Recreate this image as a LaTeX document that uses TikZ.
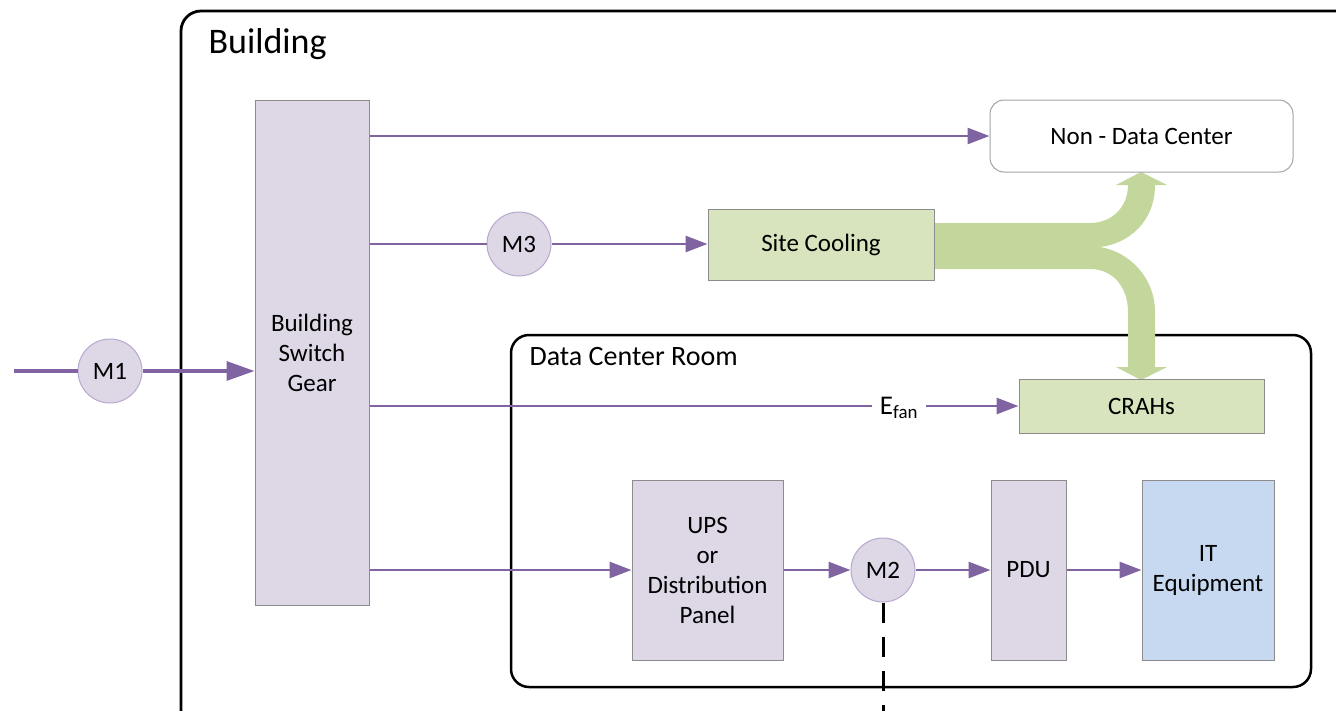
\documentclass[tikz,border=0pt]{standalone}
\usepackage{fontspec}
\setmainfont{Carlito}
\usetikzlibrary{arrows.meta}
\definecolor{flowP}{HTML}{8064A2}
\definecolor{lavFill}{HTML}{DDD7E6}
\definecolor{circEdge}{HTML}{B7A8D0}
\definecolor{boxEdge}{HTML}{8C8C8C}
\definecolor{greenFill}{HTML}{D7E4BD}
\definecolor{greenFlow}{HTML}{C3D69B}
\definecolor{blueFill}{HTML}{C6D9F1}
\tikzset{
  txt/.style={font=\fontsize{25}{30}\selectfont, text=black},
  blk/.style={draw=boxEdge, line width=1pt, inner sep=0pt, align=center, txt},
  meter/.style={circle, draw=circEdge, fill=lavFill, line width=1pt, minimum size=64pt, inner sep=0pt, txt},
  flow/.style={draw=flowP, line width=2.8pt, -{Triangle[length=22pt,width=16pt]}},
  wire/.style={draw=flowP, line width=2.8pt},
  region/.style={draw=black, line width=2.8pt, rounded corners=20pt}
}
\begin{document}
\begin{tikzpicture}[x=1pt, y=-1pt]
\useasboundingbox (0,0) rectangle (1336,710);
\clip (0,0) rectangle (1336,710);

% enclosing regions
\draw[region] (181,11) rectangle (1380,760);
\node[anchor=west, font=\fontsize{36}{40}\selectfont] (bldlabel) at (205,44) {Building};
\draw[region, line width=2.5pt, rounded corners=18pt] (511,335) rectangle (1311,687);
\node[anchor=west, font=\fontsize{28}{32}\selectfont] (dcrlabel) at (526,357) {Data Center Room};

% cooling flow from site cooling, split to non-data-center and CRAHs
\fill[greenFlow] (930,223) -- (1090,223)
  .. controls (1112,223) and (1128,207) .. (1128,185)
  -- (1116,185) -- (1141,172) -- (1167,185) -- (1155,185)
  .. controls (1155,222) and (1128,244) .. (1100,247)
  .. controls (1130,252) and (1155,278) .. (1155,312)
  -- (1155,367) -- (1167,367) -- (1141,380) -- (1116,367) -- (1128,367)
  -- (1128,312)
  .. controls (1128,286) and (1112,269) .. (1090,269)
  -- (930,269) -- cycle;

% equipment blocks
\node[blk, fill=lavFill, minimum width=114pt, minimum height=505pt] (sg) at (312,352.5) {Building\\Switch\\Gear};
\node[blk, draw=boxEdge!80, fill=white, rounded corners=14pt, minimum width=303pt, minimum height=72pt] (ndc) at (1141.5,136) {Non - Data Center};
\node[blk, fill=greenFill, minimum width=226pt, minimum height=71pt] (sc) at (821,244.5) {Site Cooling};
\node[blk, fill=greenFill, minimum width=245pt, minimum height=54pt] (crah) at (1141.5,406) {CRAHs};
\node[blk, fill=lavFill, minimum width=151pt, minimum height=180pt] (ups) at (707.5,570) {UPS\\or\\Distribution\\Panel};
\node[blk, fill=lavFill, minimum width=75pt, minimum height=180pt] (pdu) at (1028.5,570) {PDU};
\node[blk, fill=blueFill, minimum width=132pt, minimum height=180pt] (it) at (1208,570) {IT\\Equipment};

% meters
\node[meter] (m1) at (110,371) {M1};
\node[meter] (m3) at (519,244) {M3};
\node[meter] (m2) at (883,570) {M2};
\node[font=\fontsize{27}{30}\selectfont, inner xsep=8pt, inner ysep=2pt] (efan) at (899,408) {E\textsubscript{fan}};

% feed into switch gear
\coordinate (utility) at (14,371);
\draw[wire, line width=3.4pt] (utility) -- (m1.west);
\draw[flow, line width=3.4pt, -{Triangle[length=28pt,width=19pt]}] (m1.east) -- (sg.west |- m1);

% switch gear outputs
\draw[flow] (sg.east |- ndc) -- (ndc.west);
\draw[wire] (sg.east |- m3) -- (m3.west);
\draw[flow] (m3.east) -- (sc.west |- m3);
\draw[wire] (sg.east |- crah) -- (efan.west |- crah);
\draw[flow] (efan.east |- crah) -- (crah.west);
\draw[flow] (sg.east |- ups) -- (ups.west);

% IT power chain
\draw[flow] (ups.east) -- (m2.west);
\draw[flow] (m2.east) -- (pdu.west);
\draw[flow] (pdu.east) -- (it.west);

% measurement tap
\coordinate (tapend) at (883,720);
\draw[black, line width=3pt, dash pattern=on 20pt off 14pt] (m2.south) -- (tapend);
\end{tikzpicture}
\end{document}
